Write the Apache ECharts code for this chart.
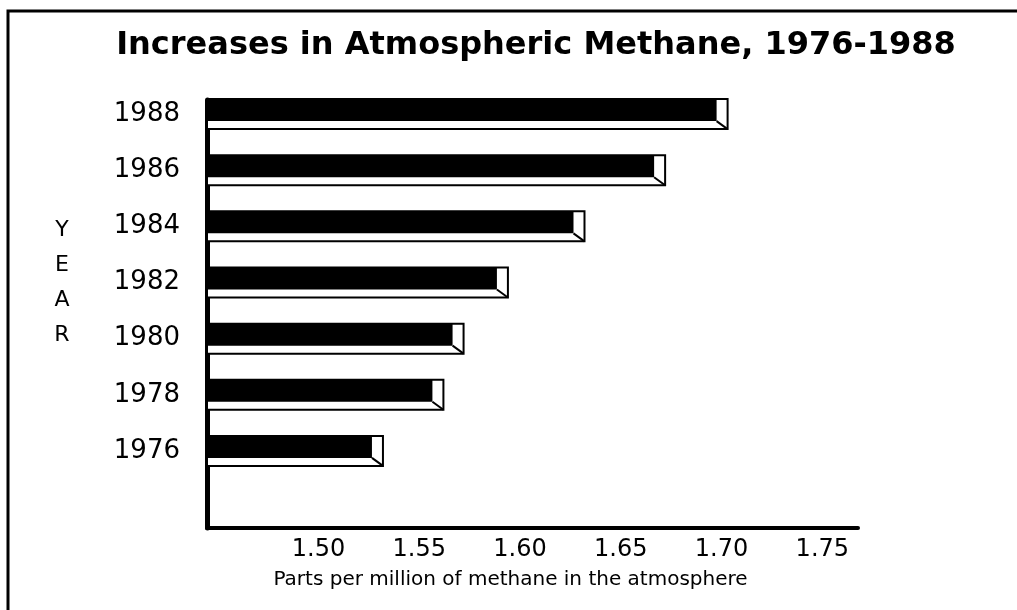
<!DOCTYPE html>
<html>
<head>
<meta charset="utf-8">
<script src="https://cdn.jsdelivr.net/npm/echarts@6/dist/echarts.min.js"></script>
<style>
  html, body { margin: 0; padding: 0; background: #fff; }
  #chart { width: 1017px; height: 610px; }
</style>
</head>
<body>
<div id="chart"></div>
<script>
// Atmospheric methane concentration (ppm), every second year
const years = ['1976', '1978', '1980', '1982', '1984', '1986', '1988'];
const methanePpm = [1.532, 1.562, 1.572, 1.594, 1.632, 1.672, 1.703];
const tickValues = [1.50, 1.55, 1.60, 1.65, 1.70, 1.75];

const X_MIN = 1.4447;
const X_MAX = 1.7677;
const FONT = '"DejaVu Sans", sans-serif';

const chart = echarts.init(document.getElementById('chart'), null, { renderer: 'canvas' });

// Draws one slab-style bar: black front face, white bottom strip and white end cap
function renderSlab(params, api) {
  const cat = api.value(0);
  const val = api.value(1);
  const end = api.coord([val, cat]);
  const start = api.coord([X_MIN, cat]);
  const H = 30, FACE = 22, CAP = 11;
  const x0 = start[0], x1 = end[0];
  const top = end[1] - H / 2;
  return {
    type: 'group',
    children: [
      {
        type: 'rect',
        shape: { x: x0, y: top, width: x1 - x0, height: H },
        style: { fill: '#fff', stroke: '#000', lineWidth: 2 }
      },
      {
        type: 'rect',
        shape: { x: x0, y: top, width: x1 - CAP - x0, height: FACE },
        style: { fill: '#000' }
      },
      {
        type: 'line',
        shape: { x1: x1 - CAP, y1: top + FACE, x2: x1, y2: top + H },
        style: { stroke: '#000', lineWidth: 2 }
      }
    ]
  };
}

const option = {
  backgroundColor: '#fff',
  animation: false,
  title: {
    text: 'Increases in Atmospheric Methane, 1976-1988',
    left: 531,
    textAlign: 'center',
    top: 25,
    textStyle: { fontFamily: FONT, fontWeight: 'bold', fontSize: 32, color: '#000' }
  },
  graphic: [
    {
      type: 'rect',
      shape: { x: 8, y: 11, width: 1030, height: 640 },
      style: { fill: 'none', stroke: '#000', lineWidth: 3 },
      silent: true
    }
  ],
  grid: [
    { left: 207, right: 159, top: 100, bottom: 82 },
    { left: 207, right: 159, top: 86, bottom: 131 }
  ],
  xAxis: [
    {
      gridIndex: 0,
      type: 'value',
      min: X_MIN,
      max: X_MAX,
      axisLine: { show: true, lineStyle: { color: '#000', width: 4, cap: 'round' } },
      axisTick: { show: false },
      splitLine: { show: false },
      axisLabel: {
        customValues: tickValues,
        formatter: v => v.toFixed(2),
        margin: 10,
        color: '#000',
        fontFamily: FONT,
        fontSize: 24
      },
      name: 'Parts per million of methane in the atmosphere',
      nameLocation: 'middle',
      nameGap: 42,
      nameTextStyle: { color: '#000', fontFamily: FONT, fontSize: 20, padding: [0, 44, 0, 0] }
    },
    {
      gridIndex: 1,
      type: 'value',
      min: X_MIN,
      max: X_MAX,
      show: false
    }
  ],
  yAxis: [
    {
      gridIndex: 0,
      type: 'value',
      min: 0,
      max: 1,
      axisLine: { show: true, lineStyle: { color: '#000', width: 5 } },
      axisTick: { show: false },
      axisLabel: { show: false },
      splitLine: { show: false }
    },
    {
      gridIndex: 1,
      type: 'category',
      data: years,
      axisLine: { show: false },
      axisTick: { show: false },
      splitLine: { show: false },
      axisLabel: { margin: 27, color: '#000', fontFamily: FONT, fontSize: 26 },
      name: 'Y\nE\nA\nR',
      nameLocation: 'middle',
      nameRotate: 0,
      nameGap: 145,
      nameTextStyle: {
        color: '#000', fontFamily: FONT, fontSize: 22, lineHeight: 35, align: 'center',
        padding: [0, 0, 8, 0]
      }
    }
  ],
  series: [
    {
      type: 'custom',
      xAxisIndex: 1,
      yAxisIndex: 1,
      encode: { x: 1, y: 0 },
      renderItem: renderSlab,
      data: years.map((y, i) => [i, methanePpm[i]])
    }
  ]
};

chart.setOption(option);
</script>
</body>
</html>
